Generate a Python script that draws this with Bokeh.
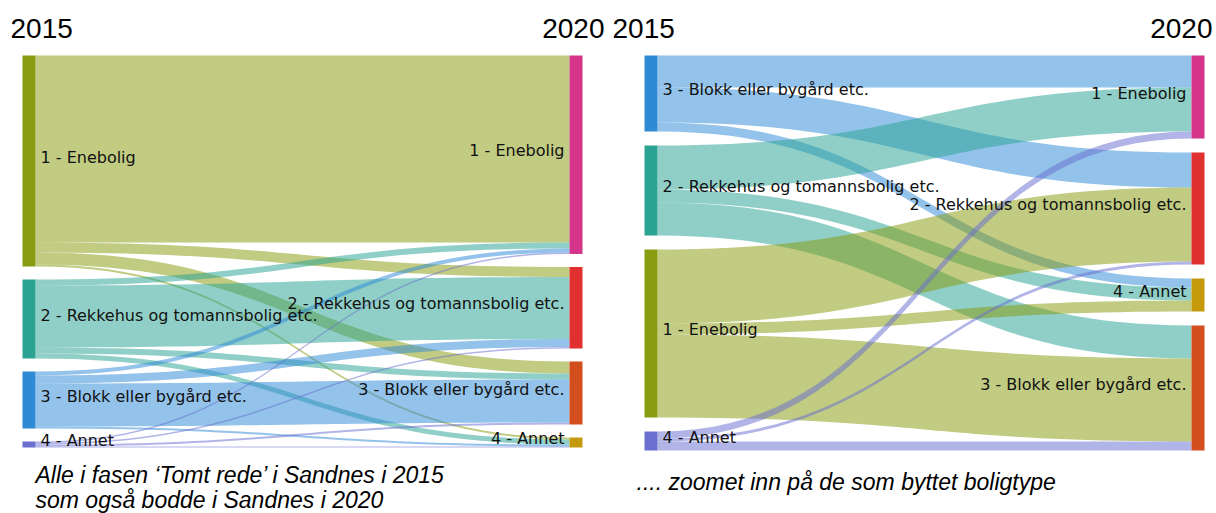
from bokeh.plotting import figure
from bokeh.models import Range1d
from bokeh.core.properties import value
from bokeh.embed import file_html
from bokeh.resources import INLINE

# ---------------- data ----------------
ENE = "1 - Enebolig"
REK = "2 - Rekkehus og tomannsbolig etc."
BLO = "3 - Blokk eller bygård etc."
ANN = "4 - Annet"

year_from = "2015"
year_to = "2020"

# Chart A: everyone (incl. those who kept their dwelling type)
a_src_order = [ENE, REK, BLO, ANN]
a_tgt_order = [ENE, REK, BLO, ANN]
a_source = [ENE, ENE, ENE, ENE, REK, REK, REK, REK, BLO, BLO, BLO, BLO, ANN, ANN, ANN, ANN]
a_target = [ENE, REK, BLO, ANN, ENE, REK, BLO, ANN, ENE, REK, BLO, ANN, ENE, REK, BLO, ANN]
a_value = [187, 10, 12, 2, 6, 62, 6, 5, 4, 8, 43, 2, 1.5, 1.5, 2, 1]

# Chart B: only those who changed dwelling type
b_src_order = [BLO, REK, ENE, ANN]
b_tgt_order = [ENE, REK, ANN, BLO]
b_source = [BLO, BLO, BLO, REK, REK, REK, ENE, ENE, ENE, ANN, ANN, ANN]
b_target = [ENE, REK, ANN, ENE, ANN, BLO, REK, ANN, BLO, ENE, REK, BLO]
b_value = [32, 35, 9, 44, 13, 33, 74, 11, 83, 7, 3, 9]

caption_a = ["Alle i fasen \u2018Tomt rede\u2019 i Sandnes i 2015", "som også bodde i Sandnes i 2020"]
caption_b = ".... zoomet inn på de som byttet boligtype"

# ---------------- styles ----------------
col_from = {ENE: "#889c10", REK: "#2aa393", BLO: "#2f8ad6", ANN: "#6a6fd0"}
col_to = {ENE: "#d4358a", REK: "#e0302f", BLO: "#d24f1d", ANN: "#c49a0c"}
LINK_ALPHA = 0.52
LABEL_FONT = value("DejaVu Sans")
LABEL_SIZE = "16px"
TITLE_FONT = value("Liberation Sans")

p = figure(width=1216, height=513, output_backend="svg", toolbar_location=None,
           x_range=Range1d(0, 1216), y_range=Range1d(513, 0), min_border=0)
p.axis.visible = False
p.xgrid.visible = False
p.ygrid.visible = False
p.outline_line_color = None
p.background_fill_color = "white"


def bezier(x0, y0, x1, y1, n=40):
    xm = (x0 + x1) / 2.0
    xs, ys = [], []
    for i in range(n + 1):
        t = i / n
        a = (1 - t) ** 3
        b = 3 * (1 - t) ** 2 * t
        c = 3 * (1 - t) * t ** 2
        d = t ** 3
        xs.append(a * x0 + b * xm + c * xm + d * x1)
        ys.append(a * y0 + b * y0 + c * y1 + d * y1)
    return xs, ys


def sankey(src_order, tgt_order, source, target, vals, x_left, x_right, top, pad, w):
    links = list(zip(source, target, vals))
    out_tot = {n: sum(v for s, t, v in links if s == n) for n in src_order}
    in_tot = {n: sum(v for s, t, v in links if t == n) for n in tgt_order}
    # node positions
    sy, y = {}, top
    for n in src_order:
        sy[n] = (y, y + out_tot[n]); y += out_tot[n] + pad
    ty, y = {}, top
    for n in tgt_order:
        ty[n] = (y, y + in_tot[n]); y += in_tot[n] + pad
    # link positions
    s_cursor = {n: sy[n][0] for n in src_order}
    t_cursor = {n: ty[n][0] for n in tgt_order}
    seg_s, seg_t = {}, {}
    for n in src_order:
        for s, t, v in sorted([l for l in links if l[0] == n], key=lambda l: tgt_order.index(l[1])):
            seg_s[(s, t)] = (s_cursor[n], s_cursor[n] + v); s_cursor[n] += v
    for n in tgt_order:
        for s, t, v in sorted([l for l in links if l[1] == n], key=lambda l: src_order.index(l[0])):
            seg_t[(s, t)] = (t_cursor[n], t_cursor[n] + v); t_cursor[n] += v
    xs_all, ys_all, cols = [], [], []
    xa, xb = x_left + w, x_right
    for s, t, v in links:
        (s0, s1), (t0, t1) = seg_s[(s, t)], seg_t[(s, t)]
        tx, tyy = bezier(xa, s0, xb, t0)
        bx, byy = bezier(xb, t1, xa, s1)
        xs_all.append(tx + bx); ys_all.append(tyy + byy); cols.append(col_from[s])
    p.patches(xs_all, ys_all, fill_color=cols, fill_alpha=LINK_ALPHA, line_color=None)
    # nodes
    p.quad(left=[x_left] * len(src_order), right=[x_left + w] * len(src_order),
           top=[sy[n][0] for n in src_order], bottom=[sy[n][1] for n in src_order],
           fill_color=[col_from[n] for n in src_order], line_color=None)
    p.quad(left=[x_right] * len(tgt_order), right=[x_right + w] * len(tgt_order),
           top=[ty[n][0] for n in tgt_order], bottom=[ty[n][1] for n in tgt_order],
           fill_color=[col_to[n] for n in tgt_order], line_color=None)
    # labels
    p.text(x=[x_left + w + 5] * len(src_order), y=[(sy[n][0] + sy[n][1]) / 2 - 4 for n in src_order],
           text=src_order, text_font=LABEL_FONT, text_font_size=LABEL_SIZE,
           text_align="left", text_baseline="middle", text_color="#111111")
    p.text(x=[x_right - 5] * len(tgt_order), y=[(ty[n][0] + ty[n][1]) / 2 - 4 for n in tgt_order],
           text=tgt_order, text_font=LABEL_FONT, text_font_size=LABEL_SIZE,
           text_align="right", text_baseline="middle", text_color="#111111")


sankey(a_src_order, a_tgt_order, a_source, a_target, a_value, 22, 569, 55, 13, 13)
sankey(b_src_order, b_tgt_order, b_source, b_target, b_value, 644, 1191, 55, 14, 13)

# year headings
p.text(x=[10, 612], y=[28, 28], text=[year_from, year_from], text_font=TITLE_FONT,
       text_font_size="28px", text_align="left", text_baseline="middle", text_color="black")
p.text(x=[604, 1212], y=[28, 28], text=[year_to, year_to], text_font=TITLE_FONT,
       text_font_size="28px", text_align="right", text_baseline="middle", text_color="black")

# captions
p.text(x=[35, 35], y=[474, 499], text=caption_a, text_font=TITLE_FONT, text_font_size="23px",
       text_font_style="italic", text_align="left", text_baseline="middle", text_color="black")
p.text(x=[636], y=[481], text=[caption_b], text_font=TITLE_FONT, text_font_size="23px",
       text_font_style="italic", text_align="left", text_baseline="middle", text_color="black")

open("out.html", "w").write(file_html(p, INLINE))
